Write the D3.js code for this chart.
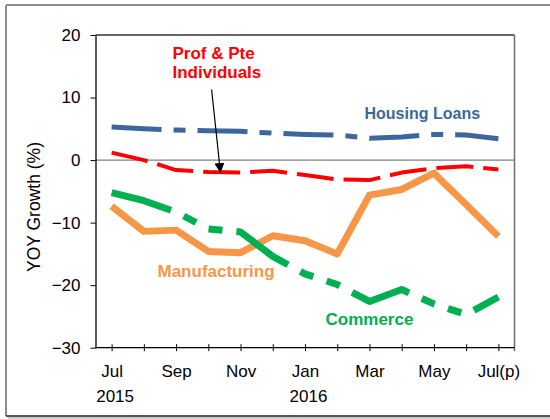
<!DOCTYPE html>
<html>
<head>
<meta charset="utf-8">
<script src="https://cdn.jsdelivr.net/npm/d3@7"></script>
<style>
  html, body { margin: 0; padding: 0; background: #fff; }
  svg { display: block; font-family: "Liberation Sans", Arial, sans-serif; }
</style>
</head>
<body>
<svg id="chart" width="550" height="419"></svg>
<script>
// ---- Data ----
const months = ["Jul", "Aug", "Sep", "Oct", "Nov", "Dec", "Jan", "Feb", "Mar", "Apr", "May", "Jun", "Jul(p)"];
const monthTickLabels = ["Jul", "", "Sep", "", "Nov", "", "Jan", "", "Mar", "", "May", "", "Jul(p)"];
const yearLabels = [{ at: "Jul", text: "2015" }, { at: "Jan", text: "2016" }];
const yTicks = [20, 10, 0, -10, -20, -30];

const housingLoans   = [5.3, 5.0, 4.8, 4.7, 4.6, 4.3, 4.1, 4.0, 3.5, 3.7, 4.1, 4.0, 3.4];
const profPte        = [1.2, 0.0, -1.6, -1.9, -2.0, -1.7, -2.4, -3.1, -3.2, -2.0, -1.3, -1.0, -1.5];
const manufacturing  = [-7.4, -11.4, -11.2, -14.6, -14.8, -12.1, -12.9, -15.0, -5.6, -4.7, -2.1, -7.1, -12.2];
const commerce       = [-5.2, -6.5, -8.3, -11.0, -11.5, -15.4, -18.2, -19.9, -22.6, -20.7, -23.0, -24.7, -21.9];

// ---- Layout ----
const svg = d3.select("#chart");
const L = 95.5, R = 514.5, T = 35, B = 347.7;

const x = d3.scalePoint().domain(months).range([L, R]).padding(0.5);
const y = d3.scaleLinear().domain([-30, 20]).range([B, T]);

// outer frame
svg.append("line").attr("x1", 6).attr("x2", 550).attr("y1", 5).attr("y2", 5)
  .attr("stroke", "#8c8c8c").attr("stroke-width", 2);
svg.append("line").attr("x1", 6).attr("x2", 6).attr("y1", 5).attr("y2", 416)
  .attr("stroke", "#8c8c8c").attr("stroke-width", 2);
svg.append("line").attr("x1", 6).attr("x2", 550).attr("y1", 416).attr("y2", 416)
  .attr("stroke", "#555", "stroke-width", 2).attr("stroke-width", 2);
svg.append("line").attr("x1", 8).attr("x2", 550).attr("y1", 418).attr("y2", 418)
  .attr("stroke", "#bbb").attr("stroke-width", 1.5);

// plot frame: top/right gray
svg.append("line").attr("x1", L).attr("x2", R).attr("y1", T).attr("y2", T)
  .attr("stroke", "#333").attr("stroke-width", 1.3);
svg.append("line").attr("x1", R).attr("x2", R).attr("y1", T).attr("y2", B + 3.5)
  .attr("stroke", "#6e6e6e").attr("stroke-width", 1.5);

// zero line
svg.append("line").attr("x1", L).attr("x2", R).attr("y1", y(0)).attr("y2", y(0))
  .attr("stroke", "#808080").attr("stroke-width", 1.3);

// Y axis
const yAxis = svg.append("g").attr("transform", `translate(${L},0)`)
  .call(d3.axisLeft(y).tickValues(yTicks).tickSize(5).tickSizeOuter(0).tickPadding(10));
yAxis.select(".domain").attr("stroke", "#000").attr("stroke-width", 1.3);
yAxis.selectAll(".tick line").attr("stroke", "#000").attr("stroke-width", 1);
yAxis.selectAll(".tick text").attr("font-size", "17px").attr("fill", "#000")
  .attr("font-family", "Liberation Sans, Arial, sans-serif");

// X axis
const xAxis = svg.append("g").attr("transform", `translate(0,${B})`)
  .call(d3.axisBottom(x).tickSize(3.5).tickSizeOuter(0).tickPadding(14)
    .tickFormat((d, i) => monthTickLabels[i]));
xAxis.select(".domain").attr("stroke", "#000").attr("stroke-width", 1.3)
  .attr("d", `M${L},0H${R}`);
xAxis.selectAll(".tick line").attr("y1", -3.5).attr("y2", 3.5).attr("stroke", "#000").attr("stroke-width", 1);
xAxis.selectAll(".tick text").attr("font-size", "17px").attr("fill", "#000")
  .attr("font-family", "Liberation Sans, Arial, sans-serif");

// year labels
svg.selectAll(".year").data(yearLabels).enter().append("text")
  .attr("class", "year")
  .attr("x", d => x(d.at) + 3.5).attr("y", 401.5)
  .attr("text-anchor", "middle").attr("font-size", "17px").attr("fill", "#000")
  .text(d => d.text);

// Y label
svg.append("text")
  .attr("transform", `translate(40,207) rotate(-90)`)
  .attr("text-anchor", "middle").attr("font-size", "17.5px").attr("fill", "#000")
  .text("YOY Growth (%)");

// ---- Lines ----
const line = d3.line().x((d, i) => x(months[i])).y(d => y(d));

const series = [
  { values: manufacturing, color: "#F79646", width: 7, dash: null },
  { values: commerce, color: "#00B050", width: 7, dash: "62,14,14,14,14,14" },
  { values: housingLoans, color: "#3D679C", width: 5, dash: "50,12,12,12" },
  { values: profPte, color: "#FF0000", width: 4, dash: "37,10" }
];
svg.selectAll(".series").data(series).enter().append("path")
  .attr("class", "series")
  .attr("d", d => line(d.values))
  .attr("fill", "none")
  .attr("stroke", d => d.color)
  .attr("stroke-width", d => d.width)
  .attr("stroke-dasharray", d => d.dash)
  .attr("stroke-linejoin", "round");

// ---- Annotations ----
svg.append("text").attr("x", 172.5).attr("y", 59).attr("font-size", "17px").attr("font-weight", "bold")
  .attr("fill", "#FF0000").text("Prof & Pte");
svg.append("text").attr("x", 172.5).attr("y", 77.5).attr("font-size", "17px").attr("font-weight", "bold")
  .attr("fill", "#FF0000").text("Individuals");
svg.append("text").attr("x", 364.5).attr("y", 119).attr("font-size", "16px").attr("font-weight", "bold")
  .attr("fill", "#3D679C").text("Housing Loans");
svg.append("text").attr("x", 157.5).attr("y", 276.5).attr("font-size", "17px").attr("font-weight", "bold")
  .attr("fill", "#F79646").text("Manufacturing");
svg.append("text").attr("x", 325.5).attr("y", 325).attr("font-size", "17px").attr("font-weight", "bold")
  .attr("fill", "#00B050").text("Commerce");

// arrow
svg.append("defs").append("marker")
  .attr("id", "ah").attr("viewBox", "0 0 10 10").attr("refX", 10).attr("refY", 5)
  .attr("markerWidth", 10).attr("markerHeight", 10).attr("markerUnits", "userSpaceOnUse")
  .attr("orient", "auto")
  .append("path").attr("d", "M0,0L10,5L0,10Z").attr("fill", "#000");
svg.append("line").attr("x1", 211.6).attr("y1", 89.5).attr("x2", 220.5).attr("y2", 173)
  .attr("stroke", "#000").attr("stroke-width", 1.2).attr("marker-end", "url(#ah)");
</script>
</body>
</html>
